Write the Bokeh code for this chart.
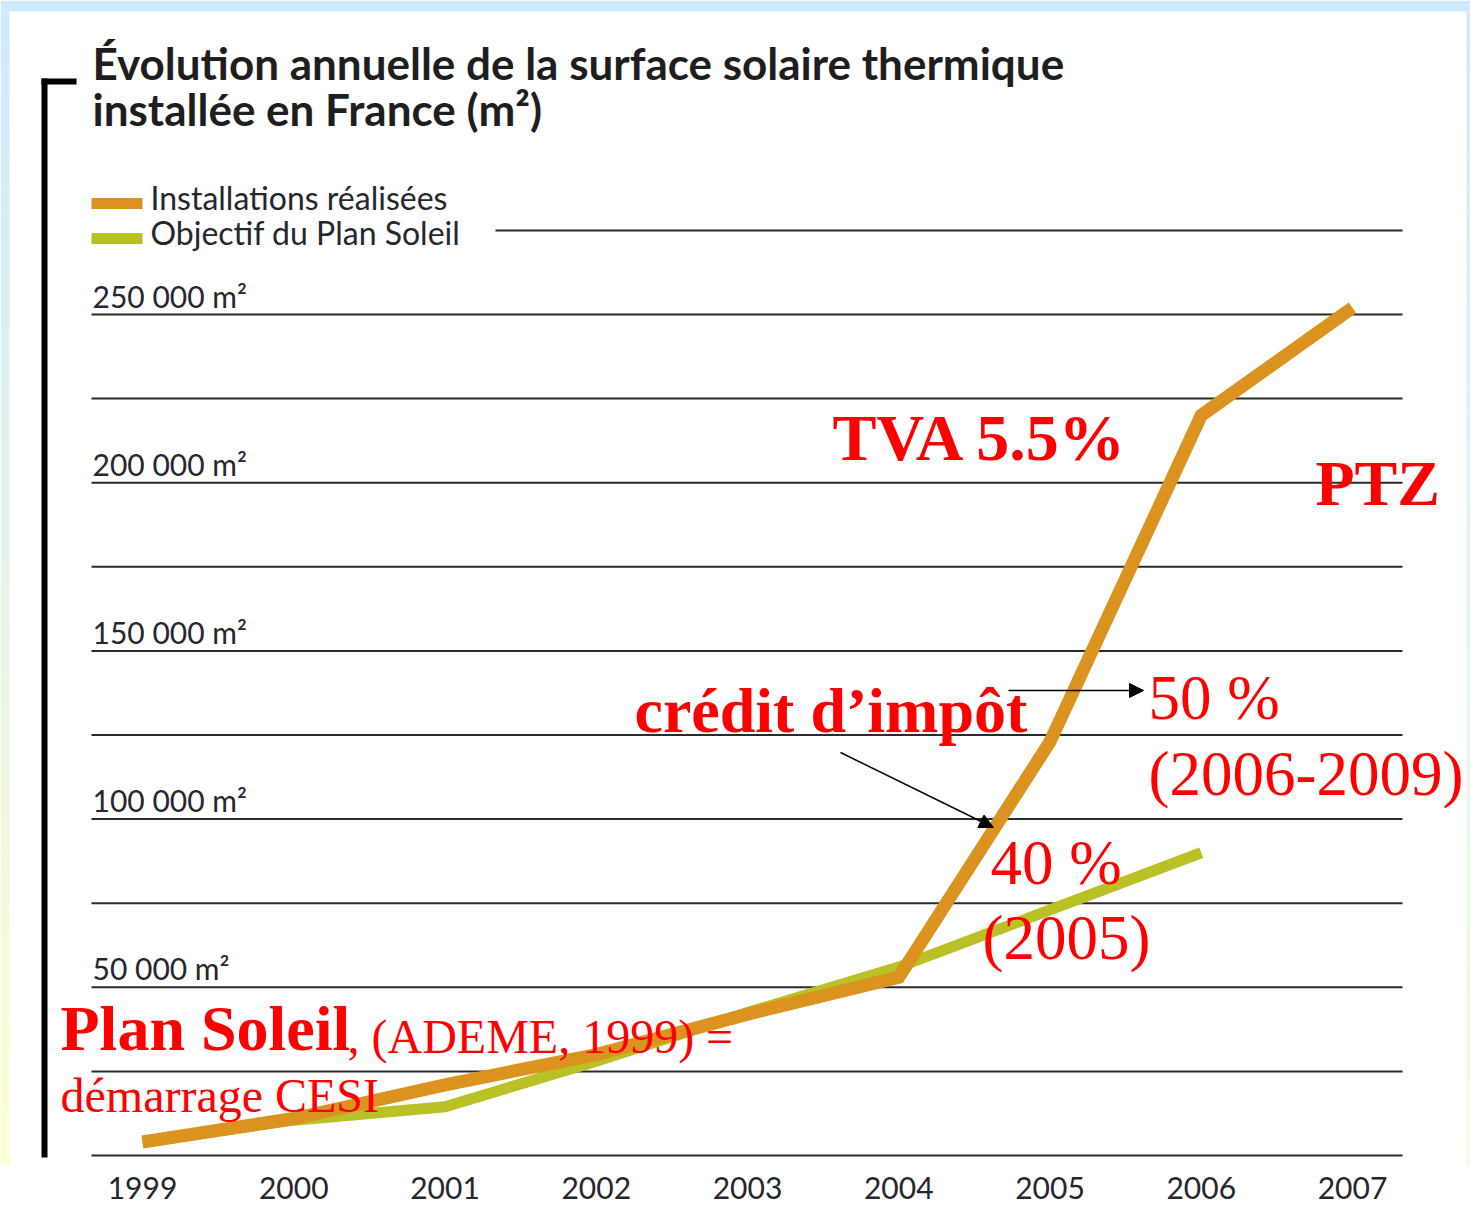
from bokeh.plotting import figure
from bokeh.models import Range1d, FixedTicker, Arrow, NormalHead
from bokeh.core.properties import value
from bokeh.embed import file_html
from bokeh.resources import INLINE

# ---------------- data ----------------
years = [1999, 2000, 2001, 2002, 2003, 2004, 2005, 2006, 2007]
installations = [4000, 11000, 21000, 30000, 42000, 53000, 123000, 220000, 252000]
objectif_years = [1999, 2000, 2001, 2002, 2003, 2004, 2005, 2006]
objectif = [4000, 10500, 14500, 28000, 42500, 56000, 73000, 90000]
grid_values = [0, 25000, 50000, 75000, 100000, 125000, 150000, 175000, 200000, 225000, 250000]
label_values = [50000, 100000, 150000, 200000, 250000]
top_grid_value = 275000
legend_labels = ["Installations réalisées", "Objectif du Plan Soleil"]
title_lines = ["Évolution annuelle de la surface solaire thermique", "installée en France (m²)"]

ORANGE = "#dc921e"
GREEN = "#b9c124"
RED = "#ff0000"
INK = "#1e1e1e"

# page-pixel -> data helpers (figure sits at page origin)
PX_PER_YEAR = 151.25
PX_PER_UNIT = 841.0 / 250000.0
X0_PAGE, Y0_PAGE = 142.0, 1155.0


def X(px):
    return 1999 + (px - X0_PAGE) / PX_PER_YEAR


def Y(py):
    return (Y0_PAGE - py) / PX_PER_UNIT


W, H = 1470, 1229
FRAME_BOTTOM = 1165
p = figure(width=W, height=H, output_backend="svg", toolbar_location=None,
           x_range=Range1d(X(0), X(W)), y_range=Range1d(Y(FRAME_BOTTOM), Y(0)),
           y_axis_location=None, min_border_left=0, min_border_right=0,
           min_border_top=0, min_border_bottom=H - FRAME_BOTTOM,
           background_fill_color="white", border_fill_color="white",
           outline_line_color=None)
p.xgrid.visible = False
p.ygrid.visible = False

ax = p.xaxis[0]
ax.ticker = FixedTicker(ticks=years)
ax.major_label_overrides = {y: str(y) for y in years}
ax.axis_line_color = None
ax.major_tick_line_color = None
ax.minor_tick_line_color = None
ax.major_label_standoff = 5
ax.major_label_text_font = "Lato"
ax.major_label_text_font_size = "30px"
ax.major_label_text_color = "#26262e"


# slide background: pale gradient strips around the white card
def blend(c1, c2, t):
    a = [int(c1[i:i + 2], 16) for i in (1, 3, 5)]
    b = [int(c2[i:i + 2], 16) for i in (1, 3, 5)]
    return "#" + "".join(f"{round(a[k] + (b[k] - a[k]) * t):02x}" for k in range(3))


NSTEP = 40
tops = [11 + (FRAME_BOTTOM - 11) * i / NSTEP for i in range(NSTEP)]
bots = [11 + (FRAME_BOTTOM - 11) * (i + 1) / NSTEP for i in range(NSTEP)]
p.quad(left=X(0), right=X(9), top=[Y(t) for t in tops], bottom=[Y(b) for b in bots],
       fill_color=[blend("#cfeafd", "#fdfdd2", i / (NSTEP - 1)) for i in range(NSTEP)],
       line_color=None)
p.quad(left=X(1466), right=X(W), top=[Y(t) for t in tops], bottom=[Y(b) for b in bots],
       fill_color=[blend("#cfeafd", "#f6fbe4", i / (NSTEP - 1)) for i in range(NSTEP)],
       line_color=None)
p.quad(left=X(0), right=X(W), top=Y(0), bottom=Y(11), fill_color="#cfeafd", line_color=None)

# horizontal grid lines
gx0, gx1 = X(91), X(1402)
p.segment(x0=[gx0] * len(grid_values), x1=[gx1] * len(grid_values),
          y0=grid_values, y1=grid_values, line_color="#2b2b2b", line_width=2)
p.segment(x0=[X(495)], x1=[gx1], y0=[top_grid_value], y1=[top_grid_value],
          line_color="#2b2b2b", line_width=2)

# y labels above the grid lines
p.text(x=[X(92)] * len(label_values), y=label_values,
       text=[f"{v:,}".replace(",", " ") + " m²" for v in label_values],
       text_font=value("Lato"), text_font_size="30px", text_color="#26262e",
       text_baseline="alphabetic", text_align="left", y_offset=-19)

# left bracket
p.segment(x0=[X(44)], x1=[X(44)], y0=[Y(1157)], y1=[Y(78)], line_color="black", line_width=6)
p.segment(x0=[X(41)], x1=[X(76)], y0=[Y(81)], y1=[Y(81)], line_color="black", line_width=6)

# title
p.text(x=[X(92), X(92)], y=[Y(80), Y(126)], text=title_lines,
       text_font=value("Lato"), text_font_style="bold", text_font_size="44px",
       text_color=INK, text_baseline="alphabetic", text_align="left", y_offset=-18)

# legend
p.segment(x0=[X(91)] * 2, x1=[X(142)] * 2, y0=[Y(203), Y(238)], y1=[Y(203), Y(238)],
          line_color=[ORANGE, GREEN], line_width=11, line_cap="butt")
p.text(x=[X(150)] * 2, y=[Y(208), Y(243)], text=legend_labels,
       text_font=value("Lato"), text_font_size="32px", text_color="#26262e",
       text_baseline="alphabetic", text_align="left", y_offset=-11)

# series
p.line(objectif_years, objectif, line_color=GREEN, line_width=11, line_cap="butt", line_join="miter")
p.line(years, installations, line_color=ORANGE, line_width=13, line_cap="butt", line_join="miter")

# arrows
p.add_layout(Arrow(x_start=X(1008), y_start=Y(690), x_end=X(1143), y_end=Y(690),
                   line_color="black", line_width=1.5,
                   end=NormalHead(size=14, fill_color="black", line_color="black")))
p.add_layout(Arrow(x_start=X(840), y_start=Y(752), x_end=X(993), y_end=Y(827),
                   line_color="black", line_width=1.5,
                   end=NormalHead(size=14, fill_color="black", line_color="black")))

# red annotations
serif = value("Liberation Serif")
p.text(x=[X(832), X(1315), X(634), X(60)], y=[Y(462), Y(508), Y(735), Y(1053)],
       text=["TVA 5.5%", "PTZ", "crédit d’impôt", "Plan Soleil"],
       text_font=serif, text_font_style="bold", text_font_size=["66px", "64px", "64px", "64px"],
       text_color=RED, text_baseline="alphabetic", text_align="left", y_offset=-25)
p.text(x=[X(1148), X(1148), X(990), X(982)], y=[Y(720), Y(796), Y(885), Y(960)],
       text=["50 %", "(2006-2009)", "40 %", "(2005)"],
       text_font=serif, text_font_size="63px",
       text_color=RED, text_baseline="alphabetic", text_align="left", y_offset=-23)
p.text(x=[X(347), X(60)], y=[Y(1053), Y(1112)],
       text=[", (ADEME, 1999) =", "démarrage CESI"],
       text_font=serif, text_font_size="48px",
       text_color=RED, text_baseline="alphabetic", text_align="left", y_offset=-17)

open("out.html", "w").write(file_html(p, INLINE))
